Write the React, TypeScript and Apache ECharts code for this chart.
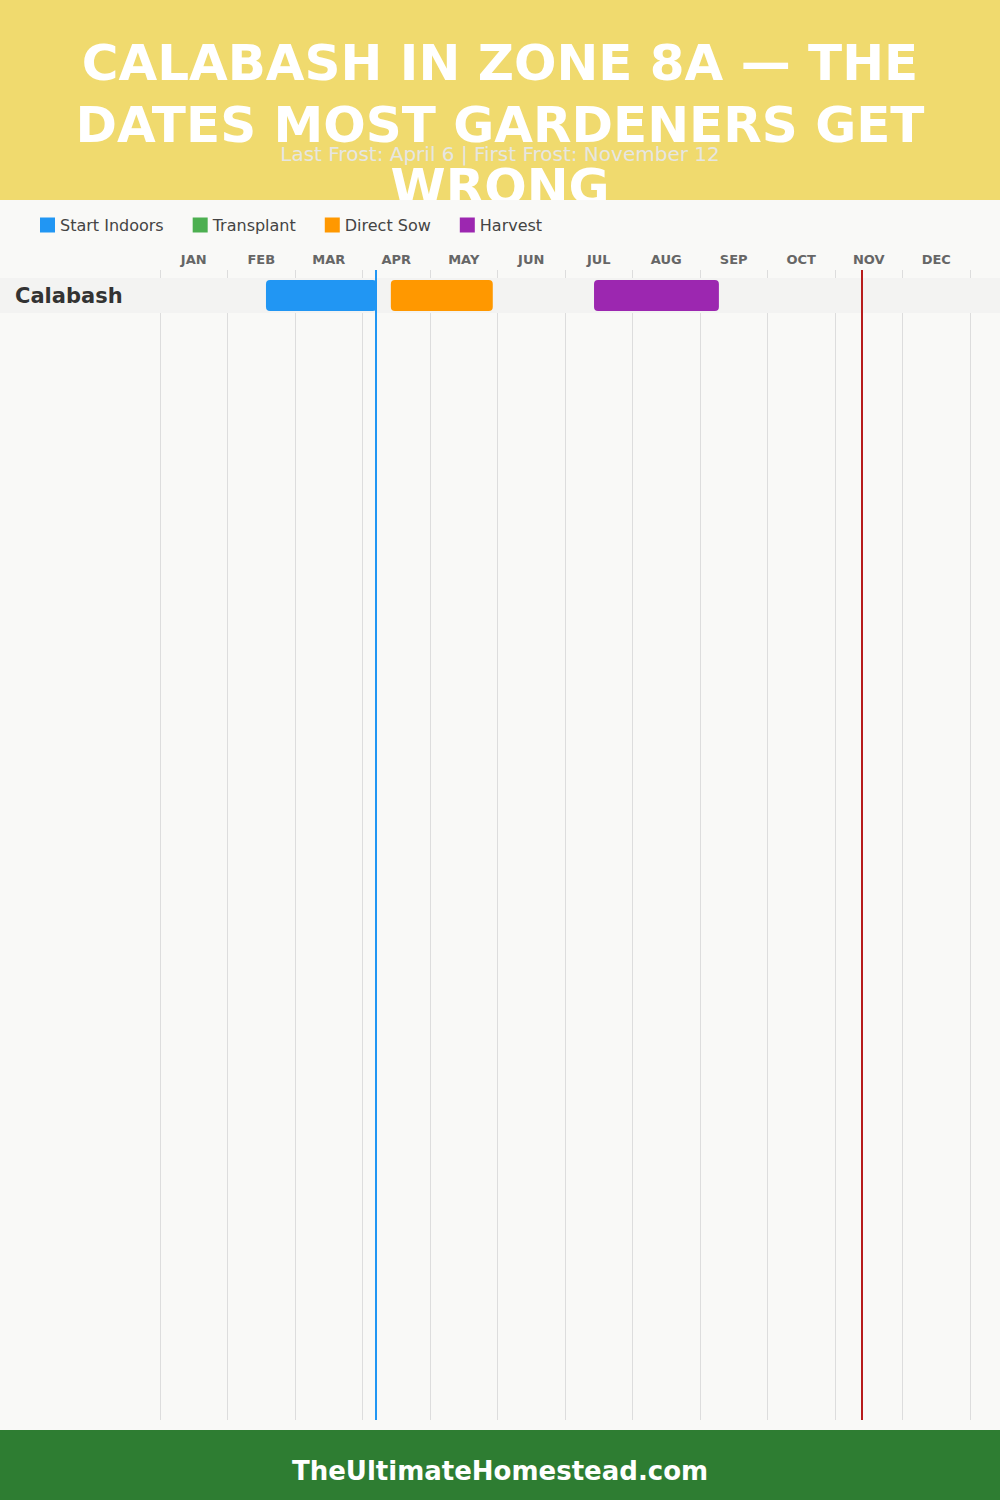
import React, { useEffect, useRef } from "react";
import * as echarts from "echarts";

const TITLE_LINES = ["CALABASH IN ZONE 8A — THE", "DATES MOST GARDENERS GET", "WRONG"];
const SUBTITLE = "Last Frost: April 6 | First Frost: November 12";
const FOOTER = "TheUltimateHomestead.com";
const MONTHS = ["JAN", "FEB", "MAR", "APR", "MAY", "JUN", "JUL", "AUG", "SEP", "OCT", "NOV", "DEC"];
const CROPS = ["Calabash"];
// [startMonth, endMonth, cropIndex] in fractional months from Jan 1
const START_INDOORS = [[1.57, 3.21, 0]];
const TRANSPLANT: number[][] = [];
const DIRECT_SOW = [[3.42, 4.93, 0]];
const HARVEST = [[6.43, 8.28, 0]];
const LAST_FROST = 3.2;
const FIRST_FROST = 10.4;

const FONT = "DejaVu Sans";

export default function App() {
  const ref = useRef<HTMLDivElement>(null);
  useEffect(() => {
    document.body.style.margin = "0";
    const chart = echarts.init(ref.current!, null, { renderer: "svg" });
    const renderItem = (params: any, api: any) => {
      const s = api.coord([api.value(0), api.value(2)]);
      const e = api.coord([api.value(1), api.value(2)]);
      const h = api.size([0, 1])[1] * 0.886;
      return {
        type: "rect",
        shape: { x: s[0], y: s[1] - h / 2, width: e[0] - s[0], height: h, r: 4 },
        style: { fill: api.visual("color") },
      };
    };
    const bar = (name: string, color: string, data: number[][]) => ({
      type: "custom",
      name,
      xAxisIndex: 2,
      yAxisIndex: 1,
      z: 6,
      itemStyle: { color },
      encode: { x: [0, 1], y: 2 },
      renderItem,
      data,
    });
    chart.setOption({
      animation: false,
      backgroundColor: "#f9f9f7",
      graphic: [
        { type: "rect", z: 1, shape: { x: 0, y: 0, width: 1000, height: 200 }, style: { fill: "#f0da6e" } },
        {
          type: "text",
          z: 2,
          x: 500,
          y: 32,
          style: {
            text: TITLE_LINES.join("\n"),
            fill: "#ffffff",
            font: `bold 50px '${FONT}'`,
            align: "center",
            verticalAlign: "top",
            lineHeight: 62,
          },
        },
        { type: "rect", z: 3, shape: { x: 0, y: 200, width: 1000, height: 1230 }, style: { fill: "#f9f9f7" } },
        {
          type: "text",
          z: 4,
          x: 500,
          y: 154,
          style: {
            text: SUBTITLE,
            fill: "#e6e6e2",
            font: `20px '${FONT}'`,
            align: "center",
            verticalAlign: "middle",
          },
        },
        { type: "rect", z: 5, shape: { x: 0, y: 278, width: 1000, height: 35 }, style: { fill: "#f3f3f2" } },
        { type: "rect", z: 7, shape: { x: 0, y: 1430, width: 1000, height: 70 }, style: { fill: "#2e7d32" } },
        {
          type: "text",
          z: 8,
          x: 500,
          y: 1471,
          style: {
            text: FOOTER,
            fill: "#ffffff",
            font: `bold 26px '${FONT}'`,
            align: "center",
            verticalAlign: "middle",
          },
        },
      ],
      legend: {
        left: 35,
        top: 212,
        z: 6,
        itemWidth: 15,
        itemHeight: 15,
        itemGap: 29,
        icon: "rect",
        data: ["Start Indoors", "Transplant", "Direct Sow", "Harvest"],
        textStyle: { fontFamily: FONT, fontSize: 16, color: "#444" },
      },
      grid: [
        { left: 160, right: 30, top: 270, bottom: 80 },
        { left: 160, right: 30, top: 278, height: 35 },
      ],
      xAxis: [
        {
          type: "value",
          gridIndex: 0,
          min: 0,
          max: 12,
          interval: 1,
          z: 4,
          axisLine: { show: false },
          axisTick: { show: false },
          axisLabel: { show: false },
          splitLine: { show: true, lineStyle: { color: "#dddddd", width: 1 } },
        },
        {
          type: "category",
          gridIndex: 0,
          position: "top",
          data: MONTHS,
          boundaryGap: true,
          z: 6,
          axisLine: { show: false },
          axisTick: { show: false },
          splitLine: { show: false },
          axisLabel: { fontFamily: FONT, fontWeight: "bold", fontSize: 13, color: "#666", margin: 4 },
        },
        {
          type: "value",
          gridIndex: 1,
          min: 0,
          max: 12,
          show: false,
        },
      ],
      yAxis: [
        { type: "value", gridIndex: 0, min: 0, max: 1, show: false },
        {
          type: "category",
          gridIndex: 1,
          data: CROPS,
          z: 6,
          axisLine: { show: false },
          axisTick: { show: false },
          splitLine: { show: false },
          axisLabel: {
            align: "left",
            margin: 145,
            fontFamily: FONT,
            fontWeight: "bold",
            fontSize: 21,
            color: "#333",
            padding: [2, 0, 0, 0],
          },
        },
      ],
      series: [
        bar("Start Indoors", "#2196f3", START_INDOORS),
        bar("Transplant", "#4caf50", TRANSPLANT),
        bar("Direct Sow", "#ff9800", DIRECT_SOW),
        bar("Harvest", "#9c27b0", HARVEST),
        {
          type: "line",
          name: "frost",
          xAxisIndex: 0,
          yAxisIndex: 0,
          z: 6,
          data: [],
          markLine: {
            silent: true,
            symbol: ["none", "none"],
            label: { show: false },
            lineStyle: { type: "solid", width: 2 },
            data: [
              { xAxis: LAST_FROST, lineStyle: { color: "#2196f3", type: "solid", width: 2 } },
              { xAxis: FIRST_FROST, lineStyle: { color: "#b71c1c", type: "solid", width: 2 } },
            ],
          },
        },
      ],
    });
    return () => chart.dispose();
  }, []);
  return <div ref={ref} style={{ width: 1000, height: 1500 }} />;
}
